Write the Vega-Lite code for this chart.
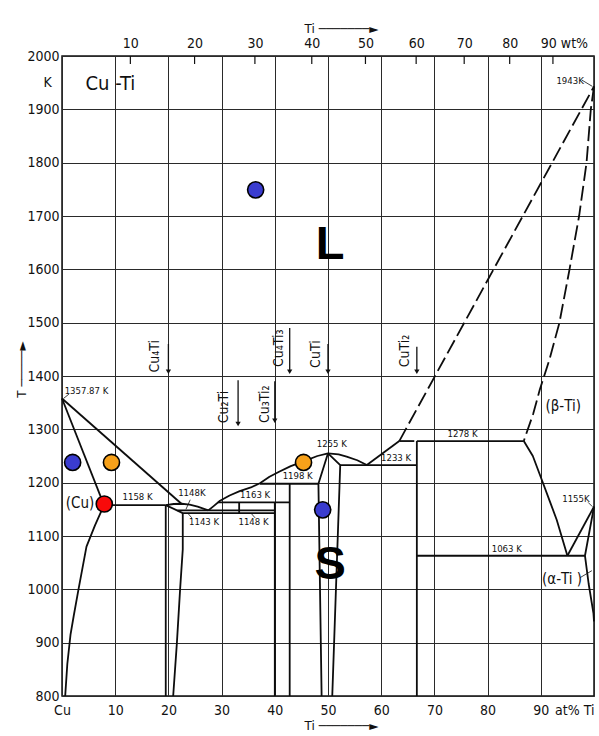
{
  "$schema": "https://vega.github.io/schema/vega-lite/v6.json",
  "width": 532,
  "height": 640,
  "autosize": {"type": "none"},
  "padding": {"left": 62, "top": 56, "right": 5, "bottom": 40},
  "background": "white",
  "config": {
    "view": {"stroke": "#111", "strokeWidth": 1.5},
    "font": "Liberation Sans Narrow, DejaVu Sans Condensed, sans-serif",
    "axis": {
      "labelFont": "Liberation Sans Narrow, DejaVu Sans Condensed, sans-serif",
      "labelFontSize": 14,
      "labelColor": "#111",
      "titleFont": "DejaVu Sans, sans-serif",
      "titleFontWeight": "normal",
      "titleFontSize": 12,
      "titleColor": "#111",
      "domain": false,
      "ticks": false,
      "gridColor": "#2a2a2a",
      "gridOpacity": 1,
      "gridWidth": 1,
      "labelOverlap": false,
      "labelFlush": false
    }
  },
  "datasets": {
    "ph": [
      {"id": "liqCu", "o": 1, "x": 0, "t": 1357.87, "s": "solid"},
      {"id": "liqCu", "o": 2, "x": 22.5, "t": 1160, "s": "solid"},
      {"id": "solCu", "o": 1, "x": 0, "t": 1357.87, "s": "solid"},
      {"id": "solCu", "o": 2, "x": 7.9, "t": 1158, "s": "solid"},
      {"id": "solv", "o": 1, "x": 7.9, "t": 1158, "s": "solid"},
      {"id": "solv", "o": 2, "x": 6.2, "t": 1120, "s": "solid"},
      {"id": "solv", "o": 3, "x": 4.6, "t": 1080, "s": "solid"},
      {"id": "solv", "o": 4, "x": 3.1, "t": 1000, "s": "solid"},
      {"id": "solv", "o": 5, "x": 2.2, "t": 950, "s": "solid"},
      {"id": "solv", "o": 6, "x": 1.6, "t": 915, "s": "solid"},
      {"id": "solv", "o": 7, "x": 1.0, "t": 860, "s": "solid"},
      {"id": "solv", "o": 8, "x": 0.6, "t": 800, "s": "solid"},
      {"id": "l1158", "o": 1, "x": 7.9, "t": 1158, "s": "solid"},
      {"id": "l1158", "o": 2, "x": 19.5, "t": 1158, "s": "solid"},
      {"id": "arc", "o": 1, "x": 19.5, "t": 1158, "s": "solid"},
      {"id": "arc", "o": 2, "x": 21, "t": 1160, "s": "solid"},
      {"id": "arc", "o": 3, "x": 22.5, "t": 1160.5, "s": "solid"},
      {"id": "arc", "o": 4, "x": 24, "t": 1159, "s": "solid"},
      {"id": "arc", "o": 5, "x": 25.5, "t": 1155, "s": "solid"},
      {"id": "arc", "o": 6, "x": 27.5, "t": 1148, "s": "solid"},
      {"id": "c4l", "o": 1, "x": 19.5, "t": 1158, "s": "solid"},
      {"id": "c4l", "o": 2, "x": 19.5, "t": 800, "s": "solid"},
      {"id": "c4s", "o": 1, "x": 19.5, "t": 1158, "s": "solid"},
      {"id": "c4s", "o": 2, "x": 22.7, "t": 1143, "s": "solid"},
      {"id": "c4r", "o": 1, "x": 22.7, "t": 1143, "s": "solid"},
      {"id": "c4r", "o": 2, "x": 22.7, "t": 1075, "s": "solid"},
      {"id": "c4r", "o": 3, "x": 22.2, "t": 1000, "s": "solid"},
      {"id": "c4r", "o": 4, "x": 21.6, "t": 900, "s": "solid"},
      {"id": "c4r", "o": 5, "x": 20.9, "t": 800, "s": "solid"},
      {"id": "l1148", "o": 1, "x": 21.7, "t": 1148, "s": "solid"},
      {"id": "l1148", "o": 2, "x": 40, "t": 1148, "s": "solid"},
      {"id": "l1143", "o": 1, "x": 22.7, "t": 1143, "s": "solid"},
      {"id": "l1143", "o": 2, "x": 40, "t": 1143, "s": "solid"},
      {"id": "l1163", "o": 1, "x": 29.3, "t": 1163, "s": "solid"},
      {"id": "l1163", "o": 2, "x": 42.8, "t": 1163, "s": "solid"},
      {"id": "c2", "o": 1, "x": 33.3, "t": 1163, "s": "solid"},
      {"id": "c2", "o": 2, "x": 33.3, "t": 1143, "s": "solid"},
      {"id": "c32", "o": 1, "x": 40, "t": 1163, "s": "solid"},
      {"id": "c32", "o": 2, "x": 40, "t": 800, "s": "solid"},
      {"id": "c43", "o": 1, "x": 42.8, "t": 1198, "s": "solid"},
      {"id": "c43", "o": 2, "x": 42.8, "t": 800, "s": "solid"},
      {"id": "liqM", "o": 1, "x": 27.5, "t": 1148, "s": "solid"},
      {"id": "liqM", "o": 2, "x": 28.5, "t": 1156, "s": "solid"},
      {"id": "liqM", "o": 3, "x": 29.7, "t": 1166, "s": "solid"},
      {"id": "liqM", "o": 4, "x": 31.5, "t": 1176, "s": "solid"},
      {"id": "liqM", "o": 5, "x": 33.4, "t": 1184, "s": "solid"},
      {"id": "liqM", "o": 6, "x": 35.5, "t": 1191, "s": "solid"},
      {"id": "liqM", "o": 7, "x": 37.2, "t": 1199, "s": "solid"},
      {"id": "liqM", "o": 8, "x": 39, "t": 1211, "s": "solid"},
      {"id": "liqM", "o": 9, "x": 40.9, "t": 1221, "s": "solid"},
      {"id": "liqM", "o": 10, "x": 43, "t": 1231, "s": "solid"},
      {"id": "liqM", "o": 11, "x": 45.4, "t": 1240, "s": "solid"},
      {"id": "liqM", "o": 12, "x": 48, "t": 1250, "s": "solid"},
      {"id": "liqM", "o": 13, "x": 50, "t": 1255, "s": "solid"},
      {"id": "liqM", "o": 14, "x": 52, "t": 1253, "s": "solid"},
      {"id": "liqM", "o": 15, "x": 53.5, "t": 1249, "s": "solid"},
      {"id": "liqM", "o": 16, "x": 55.5, "t": 1242, "s": "solid"},
      {"id": "liqM", "o": 17, "x": 57.3, "t": 1233, "s": "solid"},
      {"id": "l1198", "o": 1, "x": 37.2, "t": 1198, "s": "solid"},
      {"id": "l1198", "o": 2, "x": 48.2, "t": 1198, "s": "solid"},
      {"id": "ctl", "o": 1, "x": 50, "t": 1255, "s": "solid"},
      {"id": "ctl", "o": 2, "x": 48.2, "t": 1198, "s": "solid"},
      {"id": "ctl", "o": 3, "x": 48.8, "t": 800, "s": "solid"},
      {"id": "ctr", "o": 1, "x": 50, "t": 1255, "s": "solid"},
      {"id": "ctr", "o": 2, "x": 52.3, "t": 1233, "s": "solid"},
      {"id": "ctr", "o": 3, "x": 50.8, "t": 800, "s": "solid"},
      {"id": "l1233", "o": 1, "x": 52.3, "t": 1233, "s": "solid"},
      {"id": "l1233", "o": 2, "x": 66.7, "t": 1233, "s": "solid"},
      {"id": "liqR", "o": 1, "x": 57.3, "t": 1233, "s": "solid"},
      {"id": "liqR", "o": 2, "x": 63.4, "t": 1278, "s": "solid"},
      {"id": "ct2", "o": 1, "x": 66.7, "t": 1278, "s": "solid"},
      {"id": "ct2", "o": 2, "x": 66.7, "t": 800, "s": "solid"},
      {"id": "l1278", "o": 1, "x": 66.7, "t": 1278, "s": "solid"},
      {"id": "l1278", "o": 2, "x": 86.8, "t": 1278, "s": "solid"},
      {"id": "bl", "o": 1, "x": 86.8, "t": 1278, "s": "solid"},
      {"id": "bl", "o": 2, "x": 88.5, "t": 1250, "s": "solid"},
      {"id": "bl", "o": 3, "x": 90.2, "t": 1205, "s": "solid"},
      {"id": "bl", "o": 4, "x": 91.7, "t": 1165, "s": "solid"},
      {"id": "bl", "o": 5, "x": 93.0, "t": 1130, "s": "solid"},
      {"id": "bl", "o": 6, "x": 95.0, "t": 1063, "s": "solid"},
      {"id": "ba", "o": 1, "x": 95.0, "t": 1063, "s": "solid"},
      {"id": "ba", "o": 2, "x": 100, "t": 1155, "s": "solid"},
      {"id": "as", "o": 1, "x": 100, "t": 1155, "s": "solid"},
      {"id": "as", "o": 2, "x": 98.3, "t": 1063, "s": "solid"},
      {"id": "as", "o": 3, "x": 99.0, "t": 1010, "s": "solid"},
      {"id": "as", "o": 4, "x": 99.9, "t": 955, "s": "solid"},
      {"id": "as", "o": 5, "x": 100, "t": 940, "s": "solid"},
      {"id": "l1063", "o": 1, "x": 66.7, "t": 1063, "s": "solid"},
      {"id": "l1063", "o": 2, "x": 98.3, "t": 1063, "s": "solid"},
      {"id": "dliq", "o": 1, "x": 63.4, "t": 1278, "s": "dash"},
      {"id": "dliq", "o": 2, "x": 100, "t": 1943, "s": "dash"},
      {"id": "dsol", "o": 1, "x": 100, "t": 1943, "s": "dash"},
      {"id": "dsol", "o": 2, "x": 99.4, "t": 1900, "s": "dash"},
      {"id": "dsol", "o": 3, "x": 98.6, "t": 1800, "s": "dash"},
      {"id": "dsol", "o": 4, "x": 97.2, "t": 1700, "s": "dash"},
      {"id": "dsol", "o": 5, "x": 95.4, "t": 1600, "s": "dash"},
      {"id": "dsol", "o": 6, "x": 93.5, "t": 1500, "s": "dash"},
      {"id": "dsol", "o": 7, "x": 91.6, "t": 1430, "s": "dash"},
      {"id": "dsol", "o": 8, "x": 89.8, "t": 1374, "s": "dash"},
      {"id": "dsol", "o": 9, "x": 88.6, "t": 1330, "s": "dash"},
      {"id": "dsol", "o": 10, "x": 86.8, "t": 1278, "s": "dash"},
      {"id": "d1278", "o": 1, "x": 63.4, "t": 1278, "s": "dash"},
      {"id": "d1278", "o": 2, "x": 66.7, "t": 1278, "s": "dash"},
      {"id": "p1", "o": 1, "x": 0.3, "t": 1358, "s": "thin"},
      {"id": "p1", "o": 2, "x": 1.3, "t": 1366, "s": "thin"},
      {"id": "p2", "o": 1, "x": 24.1, "t": 1168, "s": "thin"},
      {"id": "p2", "o": 2, "x": 23.3, "t": 1150, "s": "thin"},
      {"id": "p3", "o": 1, "x": 24.4, "t": 1134, "s": "thin"},
      {"id": "p3", "o": 2, "x": 23.7, "t": 1142, "s": "thin"},
      {"id": "p4", "o": 1, "x": 36.3, "t": 1134, "s": "thin"},
      {"id": "p4", "o": 2, "x": 35.5, "t": 1143, "s": "thin"},
      {"id": "p5", "o": 1, "x": 97.7, "t": 1955, "s": "thin"},
      {"id": "p5", "o": 2, "x": 99.7, "t": 1943, "s": "thin"},
      {"id": "p6", "o": 1, "x": 98.9, "t": 1163, "s": "thin"},
      {"id": "p6", "o": 2, "x": 99.7, "t": 1155, "s": "thin"},
      {"id": "p7", "o": 1, "x": 97.4, "t": 1022, "s": "thin"},
      {"id": "p7", "o": 2, "x": 99.6, "t": 1035, "s": "thin"}
    ],
    "wt": [
      {"x": 12.85}, {"x": 24.92}, {"x": 36.26}, {"x": 46.95}, {"x": 57.04},
      {"x": 66.57}, {"x": 75.6}, {"x": 84.15}, {"x": 92.28}
    ],
    "arr": [
      {"name": "Cu4Ti", "x": 20, "t1": 1460, "t2": 1408},
      {"name": "Cu2Ti", "x": 33.1, "t1": 1392, "t2": 1310},
      {"name": "Cu3Ti2", "x": 40, "t1": 1390, "t2": 1316},
      {"name": "Cu4Ti3", "x": 42.8, "t1": 1490, "t2": 1408},
      {"name": "CuTi", "x": 50, "t1": 1460, "t2": 1408},
      {"name": "CuTi2", "x": 66.7, "t1": 1455, "t2": 1408}
    ],
    "dots": [
      {"x": 2.0, "t": 1238, "c": "blue"},
      {"x": 9.3, "t": 1238, "c": "orange"},
      {"x": 7.95, "t": 1160, "c": "red"},
      {"x": 45.4, "t": 1238, "c": "orange"},
      {"x": 49.0, "t": 1149, "c": "blue"},
      {"x": 36.4, "t": 1749, "c": "blue"}
    ],
    "lab": [
      {"x": 4.6, "t": 1371, "txt": "1357.87 K", "k": "small"},
      {"x": 14.2, "t": 1173, "txt": "1158 K", "k": "small"},
      {"x": 24.4, "t": 1181, "txt": "1148K", "k": "small"},
      {"x": 26.7, "t": 1126, "txt": "1143 K", "k": "small"},
      {"x": 36.3, "t": 1177, "txt": "1163 K", "k": "small"},
      {"x": 36.0, "t": 1126, "txt": "1148 K", "k": "small"},
      {"x": 44.3, "t": 1212, "txt": "1198 K", "k": "small"},
      {"x": 50.7, "t": 1273, "txt": "1255 K", "k": "small"},
      {"x": 62.8, "t": 1247, "txt": "1233 K", "k": "small"},
      {"x": 75.3, "t": 1292, "txt": "1278 K", "k": "small"},
      {"x": 96.6, "t": 1169, "txt": "1155K", "k": "small"},
      {"x": 83.6, "t": 1076, "txt": "1063 K", "k": "small"},
      {"x": 95.5, "t": 1954, "txt": "1943K", "k": "small"},
      {"x": 3.4, "t": 1162, "txt": "(Cu)", "k": "phase"},
      {"x": 94.2, "t": 1343, "txt": "(β-Ti)", "k": "phase"},
      {"x": 94.0, "t": 1019, "txt": "(α-Ti )", "k": "phase"},
      {"x": 9.1, "t": 1947, "txt": "Cu -Ti", "k": "title"},
      {"x": -2.7, "t": 1950, "txt": "K", "k": "unit"},
      {"x": 50.4, "t": 1645, "txt": "L", "k": "big"},
      {"x": 50.4, "t": 1045, "txt": "S", "k": "big"},
      {"x": 17.5, "t": 1437, "txt": "Cu₄Ti", "k": "comp"},
      {"x": 30.5, "t": 1342, "txt": "Cu₂Ti", "k": "comp"},
      {"x": 38.1, "t": 1347, "txt": "Cu₃Ti₂", "k": "comp"},
      {"x": 40.7, "t": 1452, "txt": "Cu₄Ti₃", "k": "comp"},
      {"x": 47.8, "t": 1441, "txt": "CuTi", "k": "comp"},
      {"x": 64.5, "t": 1447, "txt": "CuTi₂", "k": "comp"}
    ]
  },
  "layer": [
    {
      "data": {"name": "ph"},
      "transform": [{"filter": "datum.s == 'solid'"}],
      "mark": {"type": "line", "color": "#0d0d0d", "strokeWidth": 1.8, "strokeJoin": "round"},
      "encoding": {
        "x": {
          "field": "x", "type": "quantitative",
          "scale": {"domain": [0, 100], "nice": false, "zero": false},
          "axis": {
            "orient": "bottom",
            "values": [0, 10, 20, 30, 40, 50, 60, 70, 80, 90, 100],
            "grid": true,
            "labelPadding": 7,
            "labelExpr": "datum.value == 0 ? 'Cu' : datum.value == 100 ? 'at% Ti' : datum.label",
            "labelAlign": {"condition": {"test": "datum.value == 100", "value": "right"}, "value": "center"},
            "title": "Ti ───────►",
            "titleX": 279,
            "titleY": 29,
            "titleAlign": "center",
            "titleBaseline": "middle"
          }
        },
        "y": {
          "field": "t", "type": "quantitative",
          "scale": {"domain": [800, 2000], "nice": false, "zero": false},
          "axis": null
        },
        "detail": {"field": "id"},
        "order": {"field": "o"}
      }
    },
    {
      "data": {"name": "ph"},
      "transform": [{"filter": "datum.s == 'dash'"}],
      "mark": {"type": "line", "color": "#0d0d0d", "strokeWidth": 1.8, "strokeDash": [15, 5]},
      "encoding": {
        "x": {"field": "x", "type": "quantitative", "axis": null},
        "y": {"field": "t", "type": "quantitative", "axis": null},
        "detail": {"field": "id"},
        "order": {"field": "o"}
      }
    },
    {
      "data": {"name": "ph"},
      "transform": [{"filter": "datum.s == 'thin'"}],
      "mark": {"type": "line", "color": "#111", "strokeWidth": 0.8},
      "encoding": {
        "x": {"field": "x", "type": "quantitative", "axis": null},
        "y": {"field": "t", "type": "quantitative", "axis": null},
        "detail": {"field": "id"},
        "order": {"field": "o"}
      }
    },
    {
      "data": {"name": "wt"},
      "mark": {"type": "rule", "color": "#111", "strokeWidth": 1.2},
      "encoding": {
        "x": {
          "field": "x", "type": "quantitative",
          "axis": {
            "orient": "top",
            "values": [12.85, 24.92, 36.26, 46.95, 57.04, 66.57, 75.6, 84.15, 92.28],
            "grid": false,
            "labelPadding": 6,
            "labelExpr": "datum.value < 15 ? '10' : datum.value < 30 ? '20' : datum.value < 40 ? '30' : datum.value < 50 ? '40' : datum.value < 60 ? '50' : datum.value < 70 ? '60' : datum.value < 80 ? '70' : datum.value < 90 ? '80' : '90 wt%'",
            "labelOffset": {"condition": {"test": "datum.value > 90", "value": 11}, "value": 0},
            "title": "Ti ───────►",
            "titleX": 279,
            "titleY": -28,
            "titleAlign": "center",
            "titleBaseline": "middle"
          }
        },
        "y": {"datum": 2000, "type": "quantitative", "axis": null},
        "y2": {"datum": 1985}
      }
    },
    {
      "data": {"name": "arr"},
      "mark": {"type": "rule", "color": "#111", "strokeWidth": 1.3},
      "encoding": {
        "x": {"field": "x", "type": "quantitative", "axis": null},
        "y": {"field": "t1", "type": "quantitative", "axis": null},
        "y2": {"field": "t2"}
      }
    },
    {
      "data": {"name": "arr"},
      "mark": {"type": "point", "shape": "triangle-down", "filled": true, "color": "#111", "size": 28, "opacity": 1},
      "encoding": {
        "x": {"field": "x", "type": "quantitative", "axis": null},
        "y": {"field": "t2", "type": "quantitative", "axis": null}
      }
    },
    {
      "data": {"name": "lab"},
      "transform": [{"filter": "datum.k == 'small'"}],
      "mark": {"type": "text", "fontSize": 9.5, "color": "#111", "align": "center", "baseline": "middle", "font": "Liberation Sans Narrow, DejaVu Sans Condensed, sans-serif"},
      "encoding": {
        "x": {"field": "x", "type": "quantitative", "axis": null},
        "y": {"field": "t", "type": "quantitative", "axis": null},
        "text": {"field": "txt"}
      }
    },
    {
      "data": {"name": "lab"},
      "transform": [{"filter": "datum.k == 'phase'"}],
      "mark": {"type": "text", "fontSize": 15, "color": "#111", "align": "center", "baseline": "middle", "font": "Liberation Sans Narrow, DejaVu Sans Condensed, sans-serif"},
      "encoding": {
        "x": {"field": "x", "type": "quantitative", "axis": null},
        "y": {"field": "t", "type": "quantitative", "axis": null},
        "text": {"field": "txt"}
      }
    },
    {
      "data": {"name": "lab"},
      "transform": [{"filter": "datum.k == 'title'"}],
      "mark": {"type": "text", "fontSize": 20, "color": "#111", "align": "center", "baseline": "middle", "font": "Liberation Sans Narrow, DejaVu Sans Condensed, sans-serif"},
      "encoding": {
        "x": {"field": "x", "type": "quantitative", "axis": null},
        "y": {"field": "t", "type": "quantitative", "axis": null},
        "text": {"field": "txt"}
      }
    },
    {
      "data": {"name": "lab"},
      "transform": [{"filter": "datum.k == 'unit'"}],
      "mark": {"type": "text", "fontSize": 14, "color": "#111", "align": "center", "baseline": "middle", "font": "Liberation Sans Narrow, DejaVu Sans Condensed, sans-serif"},
      "encoding": {
        "x": {"field": "x", "type": "quantitative", "axis": null},
        "y": {"field": "t", "type": "quantitative", "axis": null},
        "text": {"field": "txt"}
      }
    },
    {
      "data": {"name": "lab"},
      "transform": [{"filter": "datum.k == 'comp'"}],
      "mark": {"type": "text", "fontSize": 14, "angle": 270, "color": "#111", "align": "center", "baseline": "middle", "font": "Liberation Sans Narrow, DejaVu Sans Condensed, sans-serif"},
      "encoding": {
        "x": {"field": "x", "type": "quantitative", "axis": null},
        "y": {"field": "t", "type": "quantitative", "axis": null},
        "text": {"field": "txt"}
      }
    },
    {
      "data": {"name": "lab"},
      "transform": [{"filter": "datum.k == 'big'"}],
      "mark": {"type": "text", "fontSize": 47, "fontWeight": "bold", "color": "#000", "align": "center", "baseline": "middle", "font": "Liberation Sans, Arial, sans-serif"},
      "encoding": {
        "x": {"field": "x", "type": "quantitative", "axis": null},
        "y": {"field": "t", "type": "quantitative", "axis": null},
        "text": {"field": "txt"}
      }
    },
    {
      "data": {"name": "dots"},
      "mark": {"type": "point", "shape": "circle", "filled": true, "size": 260, "stroke": "#000", "strokeWidth": 1.6, "opacity": 1},
      "encoding": {
        "x": {"field": "x", "type": "quantitative", "axis": null},
        "y": {
          "field": "t", "type": "quantitative",
          "axis": {
            "orient": "left",
            "values": [800, 900, 1000, 1100, 1200, 1300, 1400, 1500, 1600, 1700, 1800, 1900, 2000],
            "format": "d",
            "grid": true,
            "labelPadding": 3,
            "title": "T ─────►",
            "titleAngle": 270,
            "titleX": -41,
            "titleY": 313,
            "titleAlign": "center",
            "titleBaseline": "middle"
          }
        },
        "fill": {
          "field": "c", "type": "nominal",
          "scale": {"domain": ["blue", "orange", "red"], "range": ["#3a3ccf", "#f7a11a", "#f80a0a"]},
          "legend": null
        }
      }
    }
  ],
  "resolve": {"axis": {"x": "independent", "y": "independent"}}
}
